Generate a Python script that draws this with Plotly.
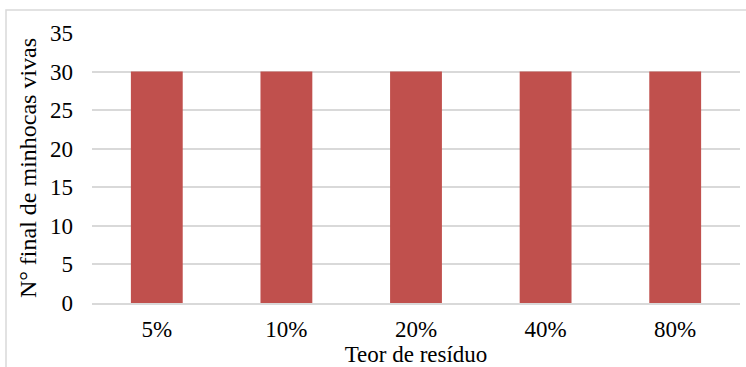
import plotly.graph_objects as go

categories = ["5%", "10%", "20%", "40%", "80%"]
values = [30, 30, 30, 30, 30]
y_ticks = [0, 5, 10, 15, 20, 25, 30, 35]

L, R, T, B = 92, 6, 33, 64
W, H = 746, 367
pw, ph = W - L - R, H - T - B

fig = go.Figure(go.Bar(x=categories, y=values, marker_color="#C0504D",
                       marker_line_width=0))

font = dict(family="Liberation Serif", size=23, color="#000000")

fig.update_layout(
    width=W, height=H,
    margin=dict(l=L, r=R, t=T, b=B),
    paper_bgcolor="white", plot_bgcolor="white",
    font=font,
    bargap=0.6,
    showlegend=False,
    xaxis=dict(showgrid=False, showline=True, linecolor="#d9d9d9", linewidth=2,
               ticks="", ticklabelstandoff=4,
               title=dict(text="Teor de resíduo", standoff=2, font=font)),
    yaxis=dict(range=[0, 35], tickvals=y_ticks, showgrid=True, gridcolor="#d9d9d9",
               gridwidth=2, zeroline=False, showline=False, ticks="",
               ticklabelstandoff=18,
               title=dict(text="N° final de minhocas vivas", standoff=6,
                          font=dict(family="Liberation Serif", size=24, color="#000000"))),
    shapes=[dict(type="rect", xref="paper", yref="paper",
                 x0=(6 - L) / pw, x1=(W + 10 - L) / pw,
                 y0=(H - B - (H + 10)) / ph, y1=(H - B - 10) / ph,
                 line=dict(color="#d9d9d9", width=1.5), fillcolor="rgba(0,0,0,0)",
                 layer="below")],
)

fig.write_html("out.html")
